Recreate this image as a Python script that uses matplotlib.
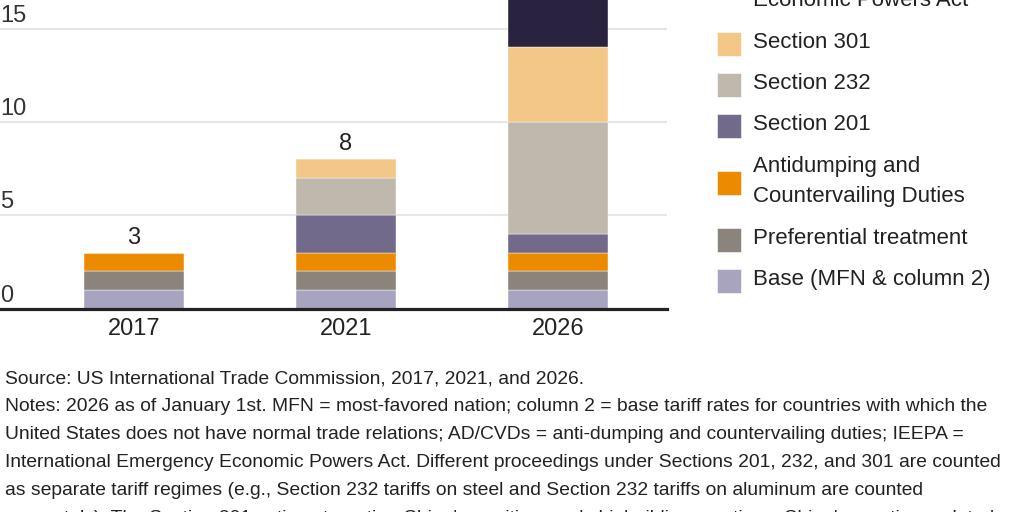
import matplotlib.pyplot as plt
from matplotlib.patches import Rectangle

# Number of tariff regimes in force, by type
years = ['2017', '2021', '2026']
base = [1, 1, 1]
preferential = [1, 1, 1]
ad_cvd = [1, 1, 1]
section_201 = [0, 2, 1]
section_232 = [0, 2, 6]
section_301 = [0, 1, 4]
ieepa = [0, 0, 6]

series = [base, preferential, ad_cvd, section_201, section_232, section_301, ieepa]
labels = ['Base (MFN & column 2)', 'Preferential treatment',
          'Antidumping and\nCountervailing Duties', 'Section 201',
          'Section 232', 'Section 301',
          'International Emergency\nEconomic Powers Act']
colors = ['#a8a3bf', '#8b847d', '#ec8b00', '#726a8b',
          '#bfb8ad', '#f2c787', '#29233f']
yticks = [0, 5, 10, 15]
notes = [
    "Source: US International Trade Commission, 2017, 2021, and 2026.",
    "Notes: 2026 as of January 1st. MFN = most-favored nation; column 2 = base tariff rates for countries with which the",
    "United States does not have normal trade relations; AD/CVDs = anti-dumping and countervailing duties; IEEPA =",
    "International Emergency Economic Powers Act. Different proceedings under Sections 201, 232, and 301 are counted",
    "as separate tariff regimes (e.g., Section 232 tariffs on steel and Section 232 tariffs on aluminum are counted",
    "separately). The Section 301 actions targeting China's maritime and shipbuilding practices; China's practices related",
]

plt.rcParams['font.family'] = ['Liberation Sans', 'DejaVu Sans']
TXT = '#222222'
W, H = 1024, 512
PX = 0.72  # points per pixel at dpi 100


def fig_xy(x, y):
    """pixel position (from top-left) -> figure fraction"""
    return x / W, 1 - y / H


fig = plt.figure(figsize=(W / 100, H / 100), dpi=100)
ax = fig.add_axes([0, 1 - 308.5 / H, 667 / W, 308.5 / H])
ax.set_xlim(-134 / 212, (667 - 134) / 212)
ax.set_ylim(0, 308.5 / 18.65)
ax.axis('off')

x = range(len(years))
bottom = [0] * len(years)
for vals, col in zip(series, colors):
    ax.bar(x, vals, width=0.4745, bottom=bottom, color=col,
           edgecolor='white', linewidth=0.3, zorder=2)
    bottom = [b + v for b, v in zip(bottom, vals)]

for v in yticks[1:]:
    ax.axhline(v, color='#e6e6e6', lw=1.5, zorder=0)
ax.axhline(0, color='#222222', lw=2.3, zorder=3, clip_on=False)

for v in yticks:
    ax.annotate(str(v), xy=(0, v), xycoords=('axes fraction', 'data'),
                xytext=(0, 7 * PX), textcoords='offset points',
                ha='left', va='baseline', fontsize=17, color='#333333')

for i, (yr, tot) in enumerate(zip(years, bottom)):
    ax.annotate(yr, xy=(i, 0), xytext=(0, -26.5 * PX), textcoords='offset points',
                ha='center', va='baseline', fontsize=17, color=TXT,
                annotation_clip=False)
    ax.annotate(str(tot), xy=(i, tot), xytext=(0, 9 * PX), textcoords='offset points',
                ha='center', va='baseline', fontsize=17, color=TXT)

# legend, drawn top to bottom (reverse of stack order)
yc = -12.7
prev_h = None
for lab, col in zip(labels[::-1], colors[::-1]):
    lines = lab.split('\n')
    h = 9 + 32 * len(lines)
    if prev_h is not None:
        yc += (prev_h + h) / 2
    prev_h = h
    x0, y0 = fig_xy(717, yc + 12)
    fig.patches.append(Rectangle((x0, y0), 24 / W, 24 / H, transform=fig.transFigure,
                                 facecolor=col, edgecolor='white', linewidth=0.4))
    for k, line in enumerate(lines):
        by = yc + 3.5 + (k - (len(lines) - 1) / 2) * 30
        fig.text(*fig_xy(753, by), line, ha='left', va='baseline',
                 fontsize=16, color=TXT)

for k, line in enumerate(notes):
    fig.text(*fig_xy(5, 383.3 + 28 * k), line, ha='left', va='baseline',
             fontsize=13.9, color=TXT)

fig.savefig('out.png', dpi=100)
